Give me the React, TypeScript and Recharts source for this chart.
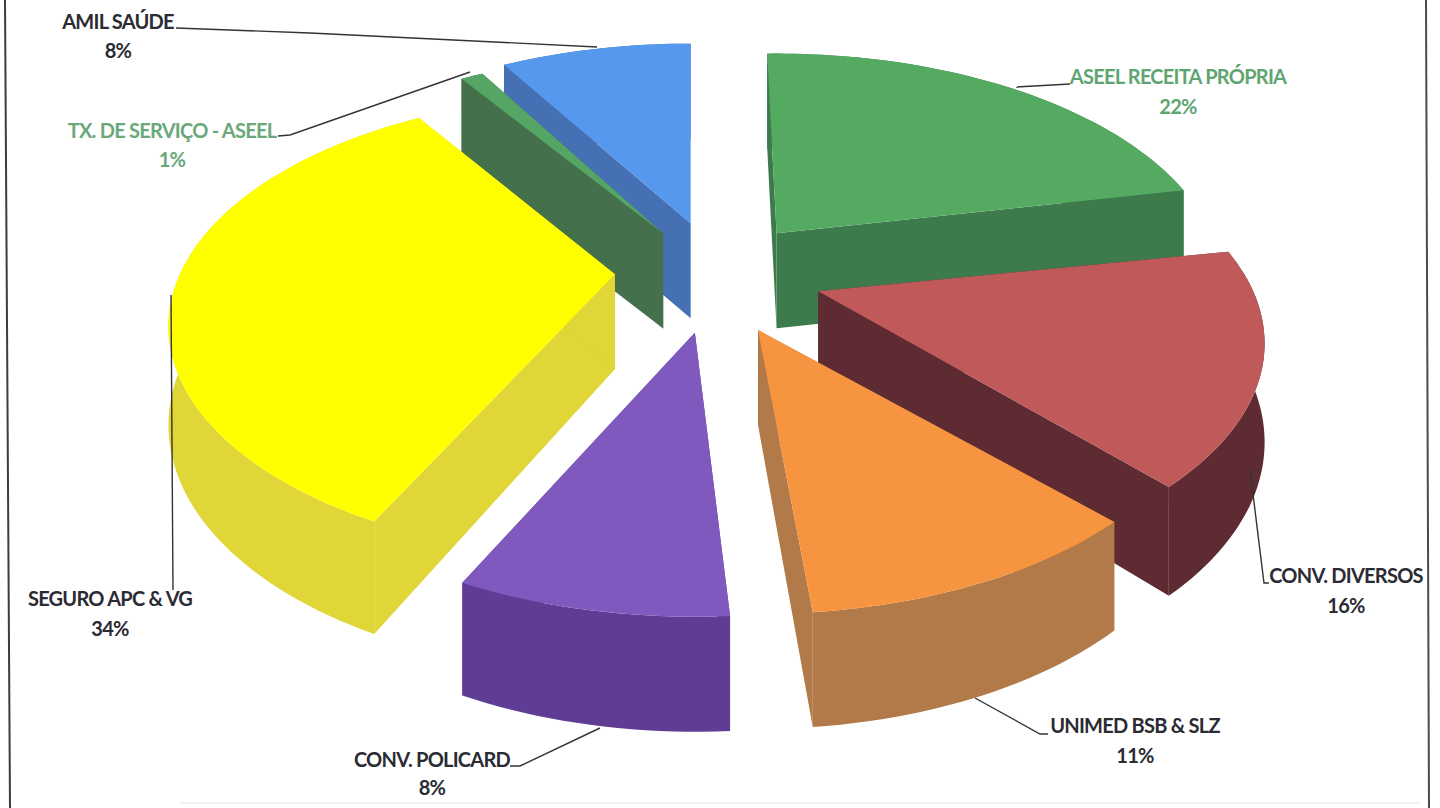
import { PieChart, Pie } from "recharts";

const nomes = [
  "AMIL SAÚDE",
  "ASEEL RECEITA PRÓPRIA",
  "CONV. DIVERSOS",
  "UNIMED BSB & SLZ",
  "CONV. POLICARD",
  "SEGURO APC & VG",
  "TX. DE SERVIÇO - ASEEL",
];
const valores = [8, 22, 16, 11, 8, 34, 1];

const dados = nomes.map((name, i) => ({ name, value: valores[i] }));

// look of each slice, same order as nomes
const coresTopo = ["#5598ee", "#55aa62", "#c05a5a", "#f79440", "#8059bf", "#ffff00", "#55a665"];
const coresLado = ["#4670b4", "#3d7a4c", "#5e2b33", "#b27a48", "#5f3d95", "#e0d637", "#44704c"];
const explosao = [0.32, 0.29, 0.25, 0.2, 0.19, 0.23, 0.27];
const naFrente = ["UNIMED BSB & SLZ", "CONV. POLICARD", "SEGURO APC & VG"];

// small corrections so the exploded slices sit where the scan has them
const ajusteX = [13, -10, 3, 12, 1, 5, 10];
const ajusteY = [7, 0, -6, 8, 10, -9, 2];
const giroIni = [-2, -1.5, 0, 0, 0, 1, -1];
const giroFim = [0, -1, 1, -2, 0, 0, -1];

// label placement: text centre x, first and second baselines, leader line
const rotulos: Record<string, { x: number; y1: number; y2: number; cor: string; linha: string }> = {
  "AMIL SAÚDE": { x: 118, y1: 29, y2: 58, cor: "#2b2b33", linha: "176,28 310,33 597,47" },
  "ASEEL RECEITA PRÓPRIA": { x: 1178, y1: 84, y2: 114, cor: "#5fa571", linha: "1070,84 1016,87" },
  "CONV. DIVERSOS": { x: 1346, y1: 583, y2: 613, cor: "#2b2b33", linha: "1269,583 1264,583 1250,470" },
  "UNIMED BSB & SLZ": { x: 1135, y1: 733, y2: 763, cor: "#2b2b33", linha: "1048,734 1040,734 975,698" },
  "CONV. POLICARD": { x: 432, y1: 767, y2: 795, cor: "#2b2b33", linha: "510,766 520,766 600,728" },
  "SEGURO APC & VG": { x: 110, y1: 606, y2: 636, cor: "#2b2b33", linha: "173,590 171,295" },
  "TX. DE SERVIÇO - ASEEL": { x: 172, y1: 138, y2: 167, cor: "#6aa87a", linha: "278,136 290,135 470,72" },
};

const RAD = Math.PI / 180;
const LARGURA = 1.977; // horizontal stretch of the ellipse
const INCLINACAO = 0.225; // perspective, near edge looks bigger
const ALTURA = 95; // wall height at the centre and behind it

function projeta(anguloPie: number, r: number, raio: number) {
  const t = (90 - anguloPie) * RAD;
  const w = 1 + INCLINACAO * Math.cos(t) * r;
  return {
    x: (raio * LARGURA * r * Math.sin(t)) / w,
    y: (-raio * r * Math.cos(t)) / w,
    h: ALTURA / Math.pow(Math.min(w, 1), 0.75),
  };
}

type Pt = { x: number; y: number; h: number };
const caminho = (pts: { x: number; y: number }[]) =>
  "M" + pts.map((p) => `${p.x.toFixed(1)},${p.y.toFixed(1)}`).join("L") + "Z";
const desce = (p: Pt) => ({ x: p.x, y: p.y + p.h });

function fatia(props: any, camada: "tras" | "frente") {
  const { cx, cy, outerRadius, startAngle, endAngle, midAngle, name } = props;
  const i = nomes.indexOf(name);
  const frente = naFrente.includes(name);
  if (i < 0 || frente !== (camada === "frente")) return <g />;

  const desloc = projeta(midAngle, explosao[i], outerRadius);
  const ox = cx + desloc.x + ajusteX[i];
  const oy = cy + desloc.y + ajusteY[i];
  const de = startAngle - giroIni[i];
  const ate = endAngle - giroFim[i];

  const arco: Pt[] = [];
  const passos = Math.max(2, Math.ceil(Math.abs(ate - de) / 1.5));
  for (let k = 0; k <= passos; k++) {
    const a = de + ((ate - de) * k) / passos;
    arco.push(projeta(a, 1, outerRadius));
  }
  const centro: Pt = { x: 0, y: 0, h: ALTURA };
  const ini = arco[0];
  const fim = arco[arco.length - 1];

  return (
    <g transform={`translate(${ox},${oy})`}>
      <path d={caminho([centro, ini, desce(ini), desce(centro)])} fill={coresLado[i]} />
      <path d={caminho([centro, fim, desce(fim), desce(centro)])} fill={coresLado[i]} />
      <path d={caminho([...arco, ...arco.map(desce).reverse()])} fill={coresLado[i]} />
      <path d={caminho([centro, ...arco])} fill={coresTopo[i]} />
    </g>
  );
}

function rotulo(props: any) {
  const r = rotulos[props.name];
  if (!r) return <g />;
  return (
    <g>
      <polyline points={r.linha} fill="none" stroke="#333338" strokeWidth={1.4} />
      <text x={r.x} y={r.y1} textAnchor="middle" fill={r.cor} style={textoStyle}>
        {props.name}
      </text>
      <text x={r.x} y={r.y2} textAnchor="middle" fill={r.cor} style={textoStyle}>
        {props.value}%
      </text>
    </g>
  );
}

const textoStyle: React.CSSProperties = {
  fontFamily: "Lato, 'Open Sans', sans-serif",
  fontSize: 20,
  fontWeight: 700,
  letterSpacing: -0.75,
};

const comum = {
  data: dados,
  dataKey: "value",
  nameKey: "name",
  cx: 710,
  cy: 280,
  innerRadius: 0,
  outerRadius: 220,
  startAngle: 118.8,
  endAngle: -241.2,
  stroke: "none",
  isAnimationActive: false,
};

export default function App() {
  return (
    <div style={{ position: "absolute", left: 0, top: 0, width: 1440, height: 808, background: "#fff" }}>
      <svg width={1440} height={808} style={{ position: "absolute", left: 0, top: 0 }}>
        <line x1={5} y1={0} x2={10} y2={808} stroke="#3c3c44" strokeWidth={2} />
        <line x1={1426} y1={0} x2={1429} y2={808} stroke="#4a4a55" strokeWidth={2} />
        <line x1={180} y1={803} x2={1420} y2={803} stroke="#e4e4e4" strokeWidth={1} />
      </svg>
      <div style={{ position: "absolute", left: 0, top: 0 }}>
        <PieChart width={1440} height={808} margin={{ top: 0, right: 0, bottom: 0, left: 0 }}>
          <Pie {...comum} shape={(p: any) => fatia(p, "tras")} />
          <Pie
            {...comum}
            shape={(p: any) => fatia(p, "frente")}
            label={rotulo}
            labelLine={false}
          />
        </PieChart>
      </div>
    </div>
  );
}
